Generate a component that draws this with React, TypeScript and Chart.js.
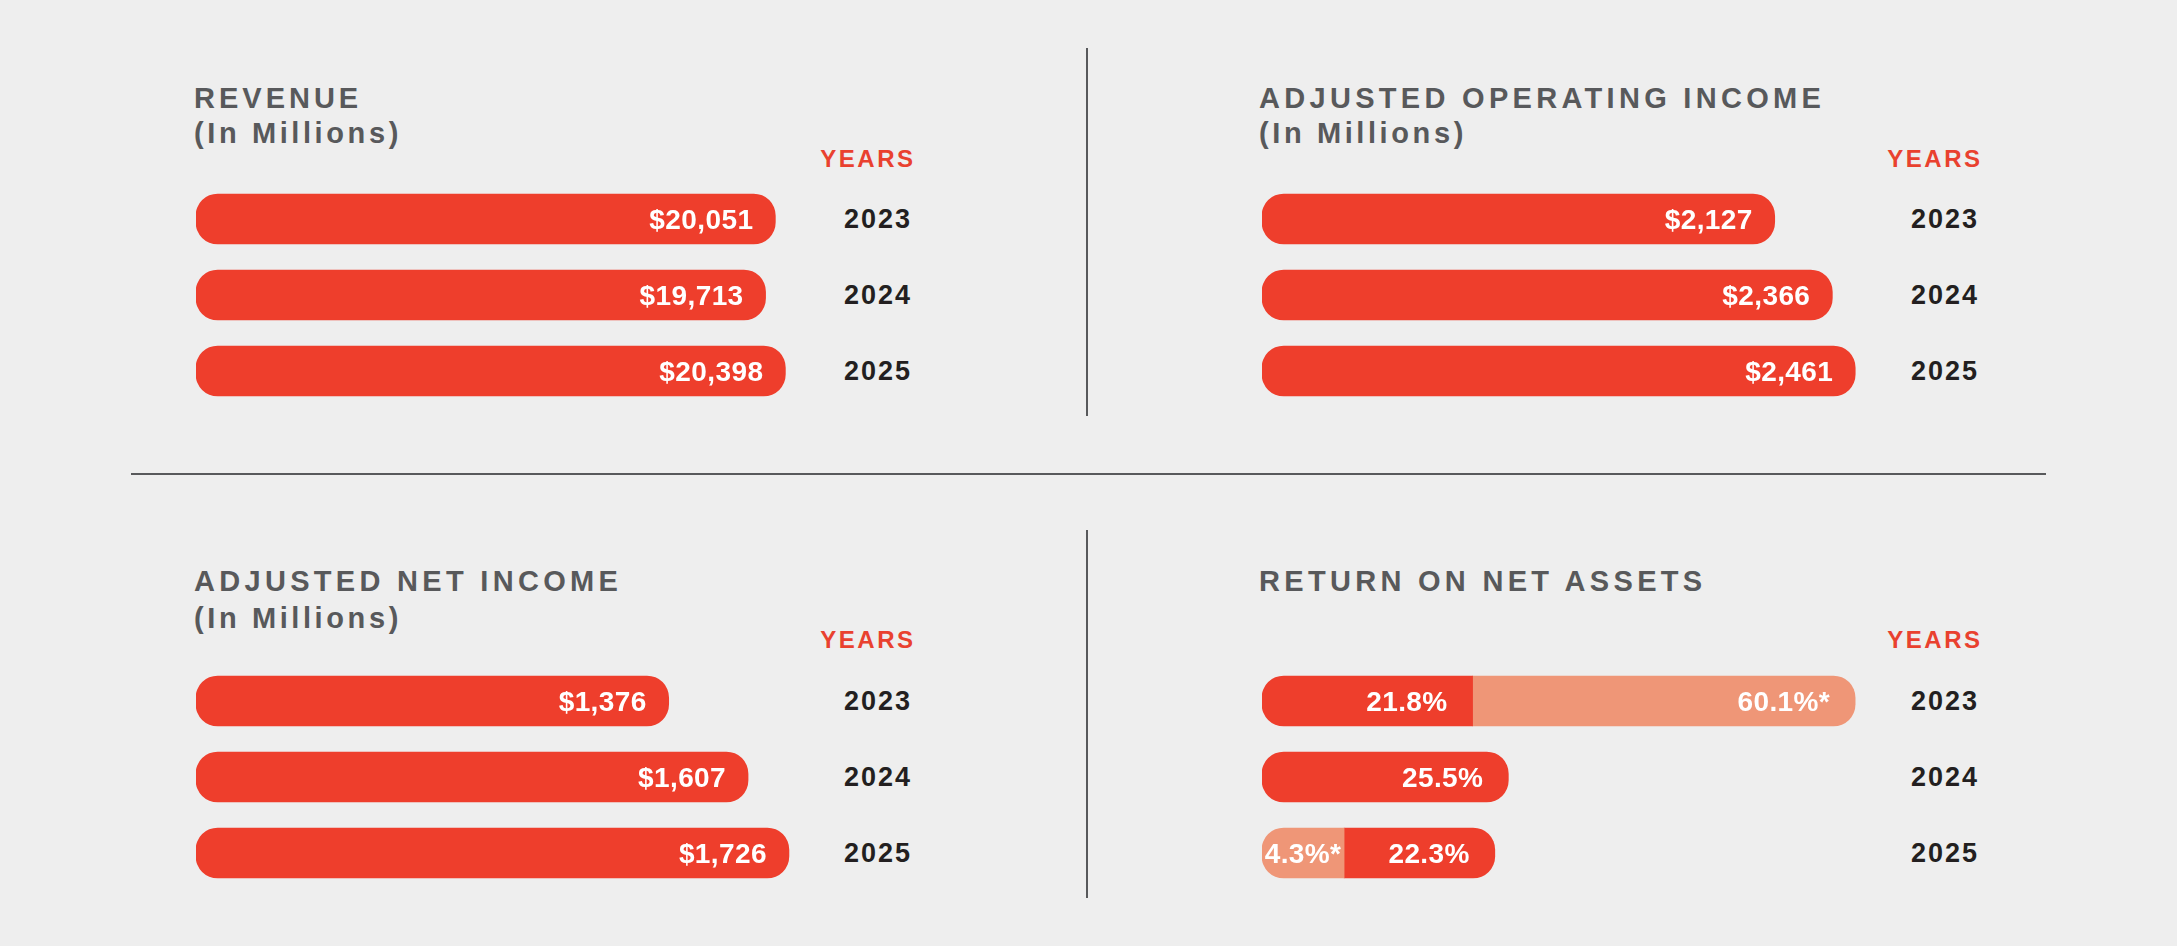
import React, { useEffect, useRef } from "react";
import { Chart, registerables } from "chart.js";

Chart.register(...registerables);

// ---------- data ----------
const years = ["2023", "2024", "2025"];

const revenueValues = [20051, 19713, 20398];
const revenueLabels = ["$20,051", "$19,713", "$20,398"];

const aoiValues = [2127, 2366, 2461];
const aoiLabels = ["$2,127", "$2,366", "$2,461"];

const netIncomeValues = [1376, 1607, 1726];
const netIncomeLabels = ["$1,376", "$1,607", "$1,726"];

// Return on net assets: segment lengths as drawn in the picture (the printed
// values are not drawn to scale in the original), with the printed labels.
const ronaFirstLengths = [21.8, 25.5, 8.5];
const ronaFirstLabels = ["21.8%", "25.5%", "4.3%*"];
const ronaFirstKinds = ["main", "main", "alt"];
const ronaSecondLengths: (number | null)[] = [39.6, null, 15.6];
const ronaSecondLabels = ["60.1%*", "", "22.3%"];
const ronaSecondKinds = ["alt", null, "main"];

// ---------- style ----------
const RED = "#ee3e2c";
const SALMON = "#ef9677";
const GREY = "#58595b";
const YEAR_RED = "#e9412f";
const DARK = "#231f20";
const BG = "#eeeeee";
const FONT = '"Liberation Sans", Arial, Helvetica, sans-serif';
const R = 22;

const kindColor = (k: string | null) => (k === "alt" ? SALMON : RED);

const valueLabelPlugin = {
  id: "valueLabels",
  afterDatasetsDraw(chart: any, _args: any, opts: any) {
    const ctx = chart.ctx;
    ctx.save();
    ctx.font = `bold 28px ${FONT}`;
    ctx.fillStyle = "#ffffff";
    ctx.textBaseline = "alphabetic";
    try {
      ctx.letterSpacing = "0.4px";
    } catch (e) {}
    const pad = opts && opts.pad != null ? opts.pad : 22;
    chart.data.datasets.forEach((ds: any, di: number) => {
      const meta = chart.getDatasetMeta(di);
      const labels: string[] = ds.valueLabels || [];
      meta.data.forEach((el: any, i: number) => {
        const txt = labels[i];
        if (!txt || ds.data[i] == null) return;
        const { x, y, base } = el.getProps(["x", "y", "base"], true);
        const w = ctx.measureText(txt).width;
        const segW = Math.abs(x - base);
        const yy = y + 10;
        if (w + 2 * pad > segW) {
          ctx.textAlign = "center";
          ctx.fillText(txt, (x + base) / 2, yy);
        } else {
          ctx.textAlign = "right";
          ctx.fillText(txt, x - pad, yy);
        }
      });
    });
    ctx.restore();
  },
};

type BarChartProps = {
  left: number;
  top: number;
  xMax: number;
  datasets: any[];
  pad: number;
  stacked?: boolean;
};

function BarChart({ left, top, xMax, datasets, pad, stacked }: BarChartProps) {
  const ref = useRef<HTMLCanvasElement | null>(null);
  useEffect(() => {
    if (!ref.current) return;
    const chart = new Chart(ref.current, {
      type: "bar",
      data: { labels: years, datasets },
      options: {
        indexAxis: "y",
        responsive: false,
        animation: false,
        events: [],
        layout: { padding: 0 },
        scales: {
          x: { display: false, min: 0, max: xMax, stacked: !!stacked },
          y: { display: false, stacked: !!stacked },
        },
        plugins: {
          legend: { display: false },
          tooltip: { enabled: false },
          title: { display: false },
          // @ts-ignore
          valueLabels: { pad },
        },
      } as any,
      plugins: [valueLabelPlugin as any],
    });
    return () => chart.destroy();
  }, []);
  return (
    <canvas
      ref={ref}
      width={640}
      height={228}
      style={{ position: "absolute", left, top, width: 640, height: 228 }}
    />
  );
}

function simpleDataset(values: number[], labels: string[]) {
  return {
    data: values,
    valueLabels: labels,
    backgroundColor: RED,
    borderWidth: 0,
    borderSkipped: false,
    borderRadius: { topLeft: R, bottomLeft: R, topRight: R, bottomRight: R },
    barThickness: 50,
  };
}

const ronaDatasets = [
  {
    data: ronaFirstLengths,
    valueLabels: ronaFirstLabels,
    backgroundColor: ronaFirstKinds.map(kindColor),
    borderWidth: 0,
    borderSkipped: false,
    borderRadius: (c: any) => {
      const hasSecond = ronaSecondLengths[c.dataIndex] != null;
      return {
        topLeft: R,
        bottomLeft: R,
        topRight: hasSecond ? 0 : R,
        bottomRight: hasSecond ? 0 : R,
      };
    },
    barThickness: 50,
  },
  {
    data: ronaSecondLengths,
    valueLabels: ronaSecondLabels,
    backgroundColor: ronaSecondKinds.map(kindColor),
    borderWidth: 0,
    borderSkipped: false,
    borderRadius: { topLeft: 0, bottomLeft: 0, topRight: R, bottomRight: R },
    barThickness: 50,
  },
];

function Txt({
  text,
  x,
  baseline,
  size,
  color,
  ls = 0,
  rightEdge,
}: {
  text: string;
  x?: number;
  baseline: number;
  size: number;
  color: string;
  ls?: number;
  rightEdge?: number;
}) {
  const top = baseline - 0.8465 * size;
  const style: any = {
    position: "absolute",
    top,
    fontFamily: FONT,
    fontWeight: 700,
    fontSize: size,
    lineHeight: `${size}px`,
    letterSpacing: ls,
    color,
    whiteSpace: "nowrap",
  };
  if (rightEdge != null) {
    style.left = rightEdge + ls - 300;
    style.width = 300;
    style.textAlign = "right";
  } else {
    style.left = x;
  }
  return <div style={style}>{text}</div>;
}

function YearColumn({ rightEdge, headerBaseline, centers }: { rightEdge: number; headerBaseline: number; centers: number[] }) {
  return (
    <>
      <Txt text="YEARS" rightEdge={rightEdge + 3} baseline={headerBaseline} size={24} color={YEAR_RED} ls={2.5} />
      {years.map((y, i) => (
        <Txt key={y} text={y} rightEdge={rightEdge} baseline={centers[i] + 9.5} size={27} color={DARK} ls={2} />
      ))}
    </>
  );
}

export default function App() {
  const topCenters = [219, 295, 371];
  const botCenters = [701, 777, 853];
  return (
    <div
      style={{
        position: "fixed",
        left: 0,
        top: 0,
        width: 2177,
        height: 946,
        background: BG,
        overflow: "hidden",
      }}
    >
      {/* dividers */}
      <div style={{ position: "absolute", left: 1086, top: 48, width: 2, height: 368, background: GREY }} />
      <div style={{ position: "absolute", left: 1086, top: 530, width: 2, height: 368, background: GREY }} />
      <div style={{ position: "absolute", left: 131, top: 473, width: 1915, height: 2, background: GREY }} />

      {/* titles */}
      <Txt text="REVENUE" x={194} baseline={108.3} size={29} color={GREY} ls={4} />
      <Txt text="(In Millions)" x={194} baseline={143.3} size={29} color={GREY} ls={3.6} />
      <Txt text="ADJUSTED OPERATING INCOME" x={1259} baseline={108.3} size={29} color={GREY} ls={4.3} />
      <Txt text="(In Millions)" x={1259} baseline={143.3} size={29} color={GREY} ls={3.6} />
      <Txt text="ADJUSTED NET INCOME" x={194} baseline={591.5} size={29} color={GREY} ls={4.3} />
      <Txt text="(In Millions)" x={194} baseline={629} size={29} color={GREY} ls={3.6} />
      <Txt text="RETURN ON NET ASSETS" x={1259} baseline={591.5} size={29} color={GREY} ls={4.3} />

      {/* year columns */}
      <YearColumn rightEdge={910} headerBaseline={167} centers={topCenters} />
      <YearColumn rightEdge={1977} headerBaseline={167} centers={topCenters} />
      <YearColumn rightEdge={910} headerBaseline={648} centers={botCenters} />
      <YearColumn rightEdge={1977} headerBaseline={648} centers={botCenters} />

      {/* charts */}
      <BarChart left={196} top={181} xMax={22150} pad={22} datasets={[simpleDataset(revenueValues, revenueLabels)]} />
      <BarChart left={1262} top={181} xMax={2655} pad={22} datasets={[simpleDataset(aoiValues, aoiLabels)]} />
      <BarChart left={196} top={663} xMax={1863} pad={22} datasets={[simpleDataset(netIncomeValues, netIncomeLabels)]} />
      <BarChart left={1262} top={663} xMax={66.25} pad={25} stacked datasets={ronaDatasets} />
    </div>
  );
}
